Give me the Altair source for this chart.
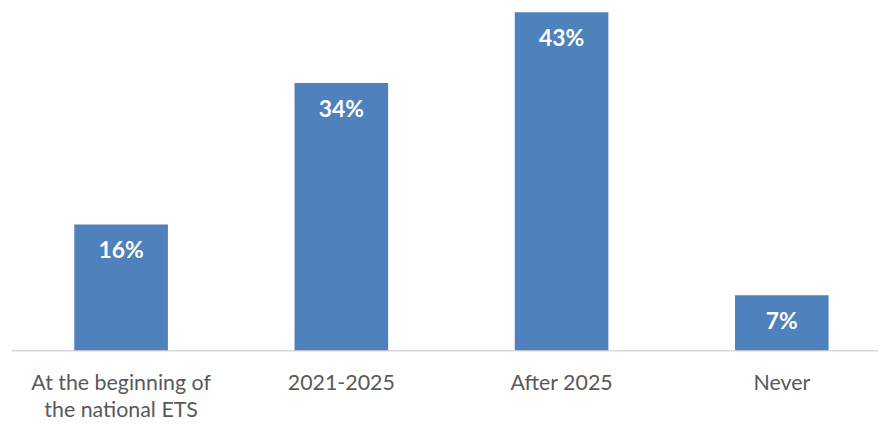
import altair as alt
import pandas as pd

categories = ["At the beginning of\nthe national ETS", "2021-2025", "After 2025", "Never"]
values = [16, 34, 43, 7]
labels = ["16%", "34%", "43%", "7%"]

df = pd.DataFrame({"cat": categories, "val": values, "lab": labels})

xenc = alt.X(
    "cat:N",
    sort=categories,
    title=None,
    scale=alt.Scale(paddingInner=0.575),
    axis=alt.Axis(
        labelAngle=0,
        labelFont="Lato",
        labelFontSize=21.5,
        labelColor="#595959",
        labelLineHeight=27,
        labelPadding=23,
        labelLimit=400,
        labelExpr="split(datum.label, '\\n')",
        ticks=False,
        domainColor="#d9d9d9",
        domainWidth=1.5,
        grid=False,
    ),
)
yenc = alt.Y("val:Q", scale=alt.Scale(domain=[0, 43], nice=False), axis=None)

bars = alt.Chart(df).mark_bar(color="#4F81BD").encode(x=xenc, y=yenc)
text = alt.Chart(df).mark_text(
    color="white", font="Lato", fontWeight="bold", fontSize=23, dy=27, baseline="middle"
).encode(x=xenc, y=yenc, text="lab:N")

chart = (bars + text).properties(
    width=886,
    height=340,
    padding={"left": 3, "top": 3, "right": -14, "bottom": 70},
    autosize=alt.AutoSizeParams(type="none"),
).configure_view(stroke=None)

chart.save("out.html", embed_options={"renderer": "svg", "actions": False})
